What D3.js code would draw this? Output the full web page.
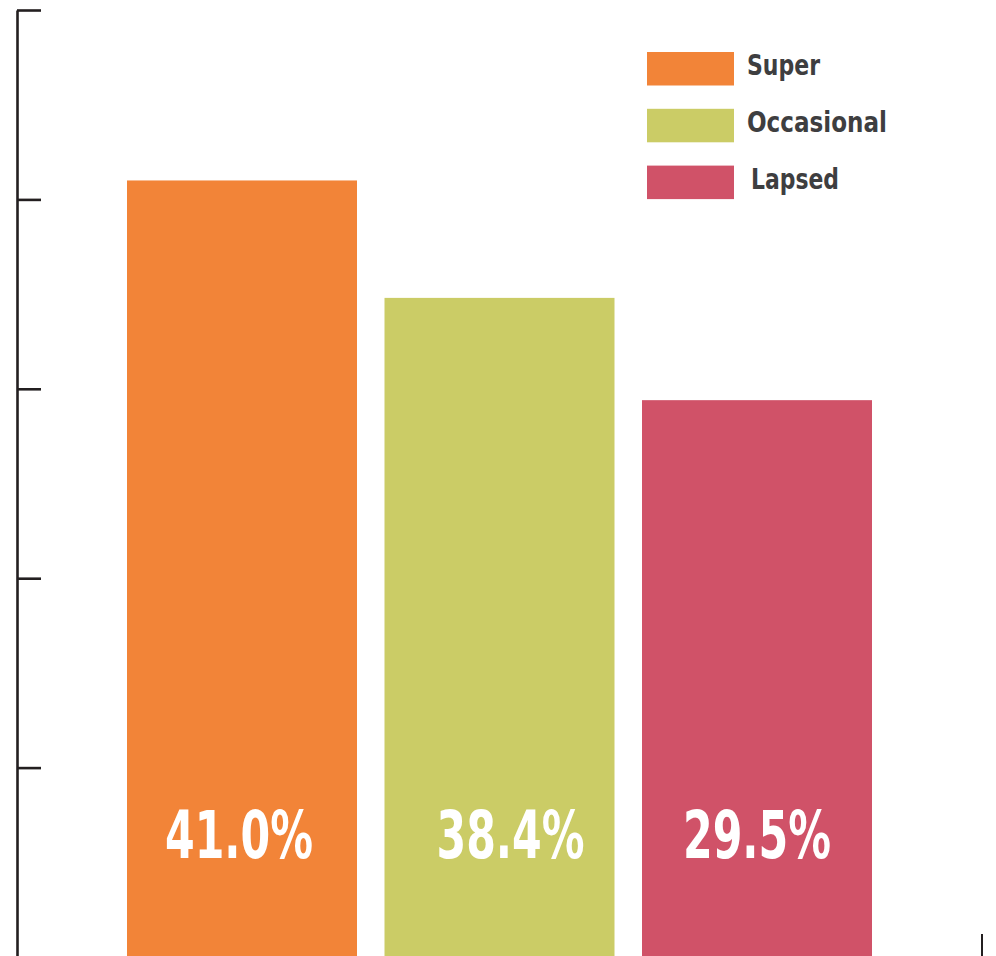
<!DOCTYPE html>
<html>
<head>
<meta charset="utf-8">
<script src="https://cdn.jsdelivr.net/npm/d3@7"></script>
<style>
  html, body { margin: 0; padding: 0; background: #fff; }
  svg { display: block; }
  text { font-family: "Liberation Sans Narrow", "DejaVu Sans Condensed", "Roboto", sans-serif; font-weight: bold; }
</style>
</head>
<body>
<div id="chart"></div>
<script>
// data
const categories = ["Super", "Occasional", "Lapsed"];
const barValues = [41.0, 34.8, 29.4];          // heights as drawn in the picture
const valueLabels = ["41.0%", "38.4%", "29.5%"]; // printed labels
const colors = ["#f28438", "#cbcc66", "#d05268"];
const yTicks = [0, 10, 20, 30, 40, 50];

const width = 996, height = 956;

const svg = d3.select("#chart")
    .append("svg")
    .attr("width", width)
    .attr("height", height);

// scales
const x = d3.scaleBand()
    .domain(categories)
    .range([127, 872])
    .paddingInner(0.1068)
    .paddingOuter(0);

const y = d3.scaleLinear()
    .domain([0, 50])
    .range([957, 10]);

// left axis, ticks pointing into the plot, no labels
const axis = svg.append("g")
    .attr("transform", "translate(17,0)")
    .call(d3.axisRight(y).tickValues(yTicks).tickSize(24).tickSizeOuter(0).tickFormat(""));
axis.select(".domain").attr("stroke", "#231f20").attr("stroke-width", 2.6);
axis.selectAll(".tick line").attr("stroke", "#231f20").attr("stroke-width", 2.6);

// bars
svg.selectAll("rect.bar")
    .data(categories)
    .enter()
    .append("rect")
    .attr("class", "bar")
    .attr("x", d => x(d))
    .attr("y", (d, i) => y(barValues[i]))
    .attr("width", x.bandwidth())
    .attr("height", (d, i) => y(0) - y(barValues[i]))
    .attr("fill", (d, i) => colors[i]);

// value labels inside bars
const labelDx = [-3, 11, 0];
svg.selectAll("text.value")
    .data(categories)
    .enter()
    .append("text")
    .attr("class", "value")
    .attr("x", (d, i) => x(d) + x.bandwidth() / 2 + labelDx[i])
    .attr("y", 858)
    .attr("text-anchor", "middle")
    .attr("fill", "#fff")
    .style("font-size", "66px")
    .attr("textLength", 148)
    .attr("lengthAdjust", "spacingAndGlyphs")
    .text((d, i) => valueLabels[i]);

// legend
const legend = svg.append("g").attr("transform", "translate(647,52)");
const legendRow = legend.selectAll("g")
    .data(categories)
    .enter()
    .append("g")
    .attr("transform", (d, i) => `translate(0, ${i * 56.8})`);

legendRow.append("rect")
    .attr("width", 87)
    .attr("height", 33.5)
    .attr("fill", (d, i) => colors[i]);

const legendWidths = [73, 140, 88];
legendRow.append("text")
    .attr("x", (d, i) => i === 2 ? 104 : 100)
    .attr("y", 23)
    .attr("fill", "#3e3e40")
    .style("font-size", "28px")
    .attr("textLength", (d, i) => legendWidths[i])
    .attr("lengthAdjust", "spacingAndGlyphs")
    .text(d => d);

// small end mark at the bottom right
svg.append("line")
    .attr("x1", 982).attr("x2", 982)
    .attr("y1", 934).attr("y2", height)
    .attr("stroke", "#231f20")
    .attr("stroke-width", 2);
</script>
</body>
</html>
